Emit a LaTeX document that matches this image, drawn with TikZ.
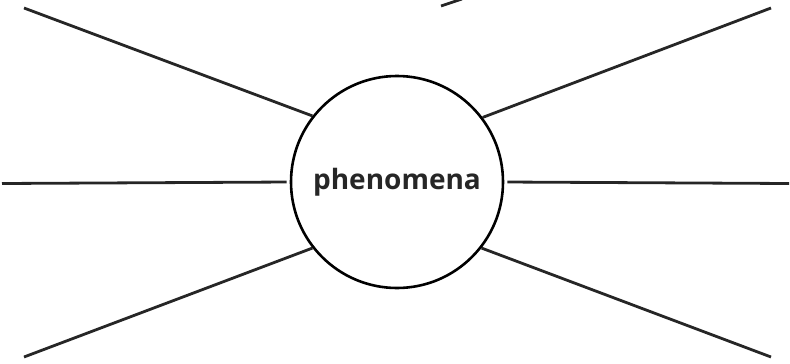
\documentclass[tikz,border=0pt]{standalone}
\usepackage{fontspec}
\setmainfont{Open Sans}
\begin{document}
\begin{tikzpicture}[x=1pt,y=-1pt,
  hub/.style={circle,draw,line width=2.6pt,minimum size=212pt,inner sep=0pt},
  spoke/.style={line width=2.8pt,line cap=butt},
  every node/.style={text=black!85}]
\useasboundingbox (0,0) rectangle (790,364);
\node[hub] (c) at (397,182) {\bfseries\fontsize{28}{30}\selectfont phenomena};
\coordinate (ul) at (24,8);
\coordinate (ur) at (771,8);
\coordinate (ll) at (24,357);
\coordinate (lr) at (771,357);
\coordinate (l) at (2,183.5);
\coordinate (r) at (789,183.5);
\coordinate (t1) at (441,6);
\coordinate (t2) at (462,-1);
\draw[spoke,black!85] (ul) -- (c.142.5);
\draw[spoke,black!85] (ur) -- (c.37.8);
\draw[spoke,black!85] (ll) -- (c.218.6);
\draw[spoke,black!85] (lr) -- (c.322.5);
\draw[spoke,black!85,shorten >=3pt] (l) -- (c.west);
\draw[spoke,black!85,shorten >=3pt] (r) -- (c.east);
\draw[spoke,black!85] (t1) -- (t2);
\end{tikzpicture}
\end{document}
